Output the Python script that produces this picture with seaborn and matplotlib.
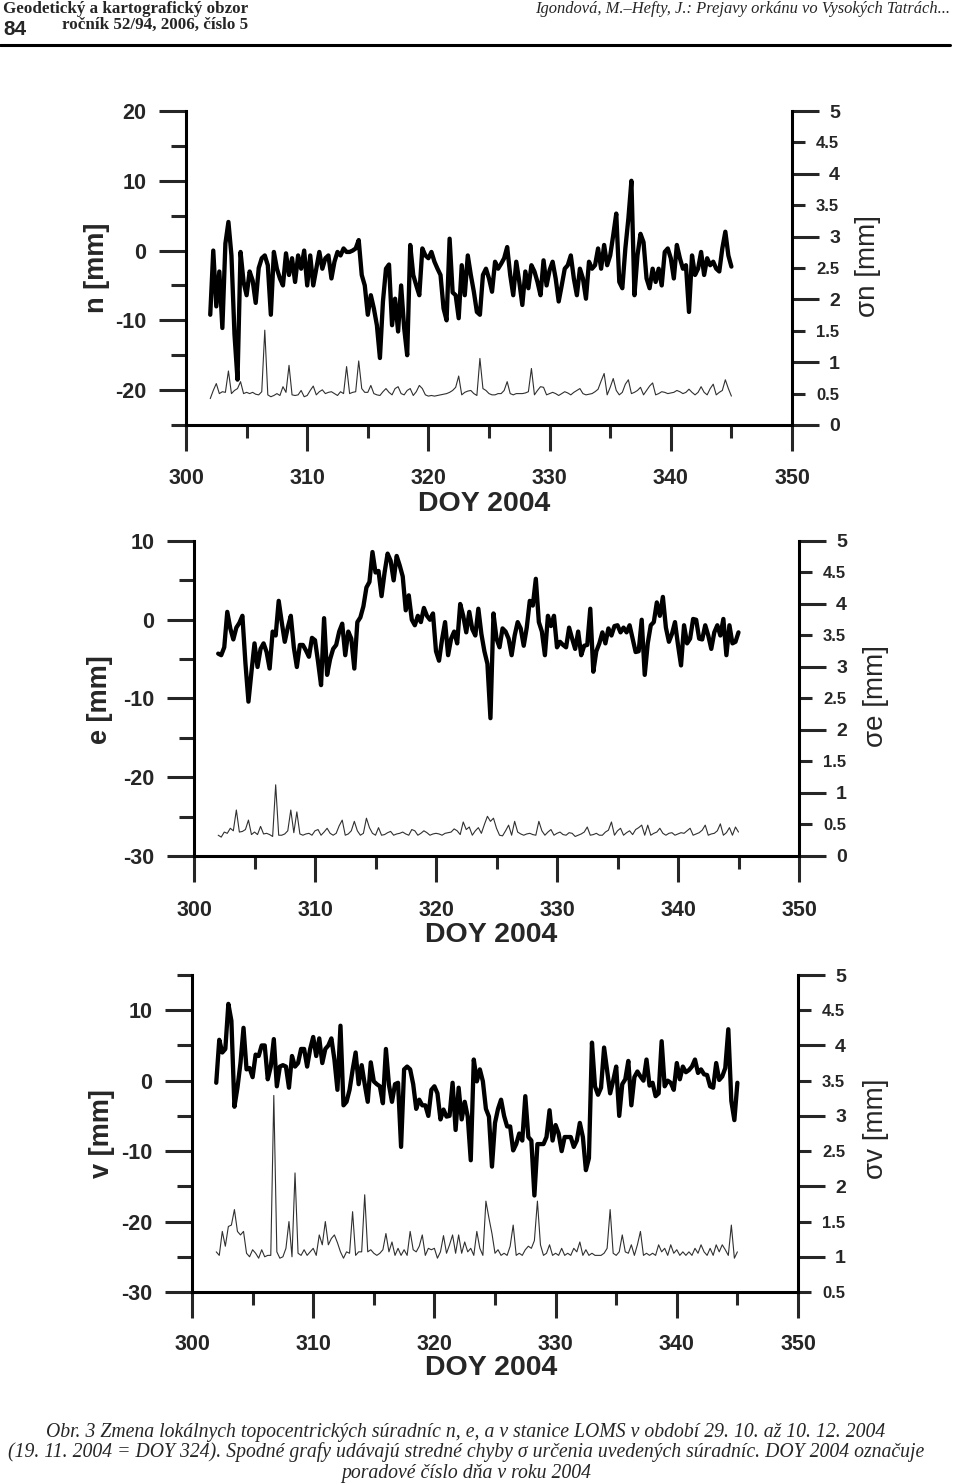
import numpy as np
import matplotlib
matplotlib.use("Agg")
import matplotlib.pyplot as plt
from matplotlib.lines import Line2D
import seaborn as sns

# time axis: DOY 2004, one solution every 6 hours
DOY_START = 302.0
DOY_STEP = 0.25

# topocentric coordinates [mm]
n_mm = [-9.2, 0.0, -8.0, -3.0, -11.1, 1.0, 4.1, -0.7, -12.0, -18.5,
        -0.2, -4.5, -6.4, -3.0, -4.3, -7.5, -2.5, -1.1, -0.7, -2.1,
        -9.2, -0.2, -2.6, -4.0, -5.0, -0.4, -3.5, -1.1, -4.5, -0.7,
        -2.6, 0.0, -5.0, -0.7, -5.0, -2.6, -0.2, -2.6, -1.1, -0.7,
        -4.0, -1.6, -0.2, -0.7, 0.3, -0.2, -0.2, 0.0, 0.3, 1.5,
        -3.5, -5.0, -9.2, -6.4, -8.3, -10.7, -15.4, -7.3, -2.6, -2.0,
        -10.7, -6.9, -11.6, -5.0, -11.1, -15.0, 0.8, -3.5, -5.0, -6.4,
        0.3, -0.7, -1.1, -0.2, -1.6, -2.6, -3.5, -8.3, -10.0, 1.7,
        -6.0, -6.4, -9.7, -2.1, -6.4, -0.7, -3.5, -5.9, -8.8, -9.2,
        -3.5, -2.6, -4.0, -5.9, -1.6, -2.6, -1.9, -1.1, 0.5, -3.5,
        -6.4, -1.6, -4.5, -7.8, -3.0, -5.4, -2.1, -3.0, -4.5, -6.4,
        -1.4, -5.0, -2.8, -1.6, -4.0, -7.3, -5.0, -2.6, -2.1, -0.7,
        -4.0, -6.4, -2.6, -4.0, -6.9, -1.6, -2.6, -2.1, 0.3, -2.6,
        0.8, -2.1, -0.7, 2.2, 5.3, -4.5, -5.4, 0.3, 4.6, 10.0,
        -6.4, -0.7, 2.4, 1.2, -4.0, -5.4, -2.6, -4.5, -2.6, -5.0,
        -0.2, 0.3, -1.1, -4.0, 0.8, -1.1, -2.6, -2.1, -8.8, -0.7,
        -3.5, -2.6, -0.2, -3.5, -1.1, -2.1, -1.6, -2.6, -3.0, 0.3,
        2.7, -0.7, -2.3]

e_mm = [-4.3, -4.5, -3.5, 1.0, -1.1, -2.5, -1.0, -0.4, 0.5, -5.5,
        -10.4, -6.6, -3.0, -6.0, -3.7, -3.0, -4.1, -6.2, -1.5, -2.0,
        2.4, -0.3, -2.8, -1.0, 0.5, -3.5, -6.0, -3.2, -3.2, -3.9,
        -4.7, -2.3, -2.6, -5.3, -8.3, 0.2, -7.0, -5.0, -3.7, -3.2,
        -1.5, -0.5, -4.5, -1.5, -2.4, -6.2, -0.3, 0.3, 1.7, 4.1,
        4.8, 8.6, 6.0, 6.2, 3.0, 6.0, 8.4, 7.5, 5.0, 8.1,
        6.9, 5.5, 1.2, 3.1, 0.0, -0.7, 0.5, -0.3, 1.5, 0.5,
        0.0, 0.8, -4.0, -5.2, -2.5, -0.3, -4.5, -2.4, -1.5, -3.0,
        2.0, 0.5, -1.6, 1.0, -1.2, -2.0, 1.4, -1.8, -4.0, -5.6,
        -12.5, 0.8, -2.4, -3.5, -1.1, -1.5, -2.4, -4.5, -2.0, -0.3,
        -1.1, -3.3, -1.0, 2.4, 1.8, 5.2, -0.3, -1.5, -4.5, 0.5,
        -0.8, 0.5, -3.5, -2.8, -3.2, -3.5, -1.0, -2.4, -3.7, -1.5,
        -4.5, -3.3, -3.2, 1.4, -6.6, -4.0, -3.0, -1.6, -3.0, -1.1,
        -2.0, -0.8, -0.7, -1.6, -1.0, -1.6, -0.7, -2.4, -4.1, -4.0,
        0.0, -7.0, -3.0, -0.7, -0.3, 2.2, 0.5, 2.9, -1.0, -2.8,
        -1.8, -0.3, -3.2, -5.8, -0.7, -3.0, -2.4, 0.1, 0.0, -2.4,
        -2.5, -0.7, -2.0, -3.7, -1.6, -0.7, -2.0, 0.1, -4.5, -0.7,
        -3.0, -2.8, -1.6]

v_mm = [-0.3, 5.8, 4.0, 4.5, 10.9, 8.5, -3.7, -1.0, 2.5, 7.5,
        1.6, 1.8, 0.5, 3.7, 3.5, 5.0, 5.0, 0.2, 2.0, 5.9,
        -0.8, 2.0, 2.2, 2.0, -1.0, 3.5, 2.0, 2.5, 4.5, 4.5,
        2.0, 4.5, 6.2, 3.5, 6.0, 2.5, 4.5, 5.0, 6.0, 3.0,
        -1.3, 7.8, -3.5, -3.0, -1.3, 1.5, 4.0, -0.5, 2.2, -0.5,
        -3.0, 2.6, -0.1, -0.5, -0.8, -3.2, 4.5, -0.6, -3.0, -0.5,
        -0.3, -9.4, 1.6, 2.0, 1.6, -0.5, -4.0, -2.7, -3.5, -3.5,
        -5.0, -1.3, -0.8, -1.8, -5.5, -4.1, -5.1, -5.0, -0.3, -7.0,
        -1.0, -5.5, -3.0, -5.1, -11.3, 3.0, -0.1, 1.6, -0.1, -4.0,
        -5.1, -12.2, -6.0, -4.0, -2.7, -5.0, -6.5, -6.5, -9.9, -9.0,
        -7.5, -8.5, -2.2, -8.0, -8.5, -16.3, -9.0, -9.0, -9.0, -8.0,
        -4.2, -8.5, -6.3, -7.5, -10.0, -8.0, -8.0, -8.0, -9.4, -8.5,
        -6.0, -8.0, -12.7, -11.0, 5.4, -0.8, -2.0, -1.0, 4.7, 1.5,
        -1.8, 0.0, 2.0, -5.0, -0.5, 0.2, 2.8, -3.5, 0.5, 1.3,
        0.6, 0.0, 3.0, -0.7, -0.3, -2.2, -1.8, 5.6, -0.8, 0.0,
        -0.3, -1.3, 2.5, 0.2, 2.0, 1.2, 1.5, 2.0, 3.0, 1.1,
        1.6, 0.9, 0.8, -0.8, -1.0, 2.5, 0.1, 0.6, 1.8, 7.3,
        -2.9, -5.6, -0.3]

# their standard errors [mm]
sig_n = [0.42, 0.55, 0.66, 0.50, 0.53, 0.52, 0.86, 0.50, 0.55, 0.58,
         0.69, 0.50, 0.52, 0.50, 0.52, 0.49, 0.48, 0.53, 1.51, 0.48,
         0.45, 0.47, 0.50, 0.47, 0.61, 0.52, 0.95, 0.48, 0.47, 0.48,
         0.55, 0.45, 0.47, 0.55, 0.62, 0.48, 0.53, 0.56, 0.50, 0.52,
         0.53, 0.50, 0.47, 0.53, 0.50, 0.93, 0.50, 0.52, 0.53, 1.02,
         0.58, 0.52, 0.52, 0.63, 0.50, 0.48, 0.47, 0.53, 0.58, 0.52,
         0.48, 0.58, 0.61, 0.50, 0.48, 0.55, 0.58, 0.47, 0.53, 0.63,
         0.58, 0.48, 0.46, 0.47, 0.46, 0.47, 0.48, 0.49, 0.50, 0.52,
         0.55, 0.60, 0.78, 0.48, 0.52, 0.54, 0.55, 0.50, 0.47, 1.06,
         0.58, 0.55, 0.50, 0.48, 0.48, 0.50, 0.50, 0.55, 0.69, 0.50,
         0.48, 0.50, 0.50, 0.50, 0.51, 0.53, 0.90, 0.48, 0.55, 0.61,
         0.60, 0.48, 0.50, 0.52, 0.50, 0.47, 0.50, 0.53, 0.51, 0.48,
         0.52, 0.55, 0.58, 0.50, 0.48, 0.49, 0.50, 0.53, 0.57, 0.70,
         0.82, 0.48, 0.60, 0.74, 0.55, 0.48, 0.52, 0.65, 0.72, 0.50,
         0.52, 0.55, 0.60, 0.48, 0.55, 0.62, 0.67, 0.48, 0.50, 0.53,
         0.52, 0.50, 0.51, 0.52, 0.55, 0.53, 0.50, 0.52, 0.57, 0.52,
         0.48, 0.52, 0.61, 0.52, 0.48, 0.58, 0.65, 0.48, 0.52, 0.55,
         0.72, 0.58, 0.46]

sig_e = [0.33, 0.30, 0.38, 0.36, 0.44, 0.40, 0.73, 0.38, 0.39, 0.42,
         0.57, 0.34, 0.38, 0.34, 0.47, 0.35, 0.36, 0.34, 0.31, 1.13,
         0.33, 0.33, 0.35, 0.40, 0.73, 0.37, 0.70, 0.35, 0.33, 0.35,
         0.36, 0.33, 0.40, 0.42, 0.33, 0.38, 0.44, 0.36, 0.33, 0.36,
         0.48, 0.57, 0.33, 0.35, 0.40, 0.55, 0.40, 0.33, 0.36, 0.60,
         0.45, 0.36, 0.33, 0.45, 0.33, 0.34, 0.37, 0.39, 0.33, 0.35,
         0.36, 0.38, 0.35, 0.33, 0.42, 0.40, 0.33, 0.36, 0.40, 0.37,
         0.33, 0.35, 0.36, 0.35, 0.33, 0.36, 0.37, 0.38, 0.43, 0.40,
         0.34, 0.54, 0.42, 0.46, 0.33, 0.40, 0.45, 0.36, 0.50, 0.63,
         0.55, 0.60, 0.44, 0.33, 0.32, 0.40, 0.49, 0.33, 0.55, 0.38,
         0.35, 0.33, 0.35, 0.36, 0.34, 0.33, 0.55, 0.40, 0.33, 0.38,
         0.42, 0.33, 0.36, 0.38, 0.34, 0.33, 0.37, 0.36, 0.31, 0.33,
         0.35, 0.38, 0.46, 0.33, 0.34, 0.36, 0.33, 0.33, 0.38, 0.41,
         0.54, 0.33, 0.40, 0.44, 0.33, 0.37, 0.40, 0.34, 0.42, 0.45,
         0.49, 0.33, 0.49, 0.33, 0.36, 0.38, 0.44, 0.36, 0.33, 0.36,
         0.37, 0.33, 0.35, 0.37, 0.36, 0.40, 0.44, 0.33, 0.35, 0.37,
         0.41, 0.49, 0.33, 0.35, 0.36, 0.40, 0.51, 0.33, 0.37, 0.45,
         0.33, 0.46, 0.38]

sig_v = [1.07, 1.02, 1.36, 1.15, 1.43, 1.45, 1.67, 1.36, 1.31, 1.36,
         1.05, 1.00, 1.10, 1.05, 0.98, 1.10, 1.00, 1.02, 1.02, 3.29,
         1.07, 0.98, 1.00, 1.12, 1.50, 1.00, 2.19, 1.05, 1.02, 1.10,
         1.02, 1.07, 1.12, 1.02, 1.31, 1.17, 1.50, 1.17, 1.26, 1.31,
         1.20, 1.07, 0.98, 1.07, 1.05, 1.64, 1.02, 1.07, 1.07, 1.88,
         1.07, 1.10, 1.05, 1.02, 1.05, 1.10, 1.33, 1.07, 1.21, 1.02,
         1.12, 1.02, 1.10, 1.02, 1.36, 1.10, 1.07, 1.15, 1.31, 1.02,
         1.12, 1.10, 1.12, 0.98, 1.07, 1.30, 1.05, 1.17, 1.31, 1.05,
         1.31, 1.05, 1.21, 1.07, 1.12, 1.02, 1.36, 1.12, 1.02, 1.79,
         1.55, 1.33, 1.05, 1.10, 1.02, 1.05, 1.02, 1.15, 1.45, 1.02,
         1.05, 1.02, 1.10, 1.15, 1.12, 1.23, 1.79, 1.17, 1.02, 1.05,
         1.17, 1.02, 1.05, 1.02, 1.12, 1.02, 1.05, 1.02, 1.12, 1.07,
         1.21, 1.02, 1.10, 1.02, 1.05, 1.02, 1.02, 1.02, 1.05, 1.12,
         1.67, 1.05, 1.02, 1.07, 1.31, 1.07, 1.05, 1.17, 1.02, 1.17,
         1.36, 1.02, 1.05, 1.02, 1.05, 1.02, 1.17, 1.07, 1.12, 1.02,
         1.17, 1.05, 1.10, 1.02, 1.07, 1.02, 1.07, 1.02, 1.12, 1.05,
         1.17, 1.07, 1.02, 1.12, 1.02, 1.17, 1.07, 1.17, 1.10, 1.02,
         1.45, 0.98, 1.07]

x_major = [300, 310, 320, 330, 340, 350]
x_minor = [305, 315, 325, 335, 345]

W, H = 960, 1484

sns.set_style("ticks")
plt.rcParams['font.family'] = ['Liberation Sans', 'DejaVu Sans']
plt.rcParams['font.weight'] = 'bold'
plt.rcParams['axes.unicode_minus'] = False

fig = plt.figure(figsize=(W / 100, H / 100), dpi=100)
renderer = fig.canvas.get_renderer()


def fx(x):
    return x / W


def fy(y):
    return 1 - y / H


def fit_text(x, y, s, width, **kw):
    # put a text and scale its size so it is `width` pixels wide
    t = fig.text(fx(x), fy(y), s, fontsize=12, **kw)
    w = t.get_window_extent(renderer).width
    t.set_fontsize(12 * width / w)
    return t


def fmt(v):
    return ('%g' % v)


def panel(box, y, sig, ylim, slim, ymaj, ymin, smaj, smin, ylab, slab, lab_pos, xpad):
    left, top, right, bottom = box
    ax = fig.add_axes([fx(left), fy(bottom), (right - left) / W, (bottom - top) / H])
    ax.patch.set_alpha(0)
    doy = DOY_START + DOY_STEP * np.arange(len(y))
    sns.lineplot(x=doy, y=y, ax=ax, color='black', linewidth=3.1)
    ax2 = ax.twinx()
    sns.lineplot(x=doy, y=sig, ax=ax2, color='#303030', linewidth=0.8)

    ax.set_xlim(300, 350)
    ax.set_ylim(*ylim)
    ax2.set_ylim(*slim)
    ax.set_xlabel('')
    ax.set_ylabel('')
    ax2.set_ylabel('')

    ax.set_xticks(x_major, labels=[str(v) for v in x_major])
    ax.set_xticks(x_minor, minor=True)
    ax.set_yticks(ymaj, labels=[fmt(v) for v in ymaj])
    ax.set_yticks(ymin, minor=True)
    ax2.set_yticks(smaj, labels=[fmt(v) for v in smaj])
    ax2.set_yticks(smin, labels=[fmt(v) for v in smin], minor=True)

    for a in (ax, ax2):
        for s in a.spines.values():
            s.set_linewidth(2.2)
            s.set_color('black')
        a.spines['top'].set_visible(False)
    ax.spines['right'].set_visible(False)
    ax2.spines['left'].set_visible(False)
    ax2.spines['bottom'].set_visible(False)

    ax.tick_params(axis='x', which='major', length=19, width=2.2, pad=xpad,
                   labelsize=15.5, direction='out')
    ax.tick_params(axis='x', which='minor', length=9.5, width=2.2, direction='out')
    ax.tick_params(axis='y', which='major', length=19.5, width=2.2, pad=9,
                   labelsize=15.5, direction='out')
    ax.tick_params(axis='y', which='minor', length=10.5, width=2.2, direction='out')
    ax2.tick_params(axis='y', which='major', length=19.5, width=2.2, pad=15,
                    labelsize=14, direction='out')
    ax2.tick_params(axis='y', which='minor', length=9.5, width=2.2, pad=24.5,
                    labelsize=12, direction='out')
    for lbl in ax2.get_yticklabels(which='both'):
        lbl.set_horizontalalignment('right')

    (lx, ly), (rx, ry), (dx, dy) = lab_pos
    fig.text(fx(lx), fy(ly), ylab, rotation=90, ha='center', va='center',
             fontsize=19.5, fontweight='bold')
    fig.text(fx(rx), fy(ry), slab, rotation=90, ha='center', va='center',
             fontsize=20, fontweight='normal')
    fig.text(fx(dx), fy(dy), 'DOY 2004', ha='center', va='center',
             fontsize=20.5, fontweight='bold')
    return ax, ax2


halves = [0.5, 1.5, 2.5, 3.5, 4.5]

panel((186, 111, 792, 425), n_mm, sig_n, (-25, 20), (0, 5),
      [-20, -10, 0, 10, 20], [-25, -15, -5, 5, 15], [0, 1, 2, 3, 4, 5], halves,
      'n [mm]', 'σn [mm]', ((97, 268), (868, 266), (484, 504)), 12)

panel((194, 541, 799, 856), e_mm, sig_e, (-30, 10), (0, 5),
      [-30, -20, -10, 0, 10], [-25, -15, -5, 5], [0, 1, 2, 3, 4, 5], halves,
      'e [mm]', 'σe [mm]', ((100, 700), (876, 696), (491, 935)), 13)

panel((192, 975, 798, 1292), v_mm, sig_v, (-30, 15), (0.5, 5),
      [-30, -20, -10, 0, 10], [-25, -15, -5, 5, 15], [1, 2, 3, 4, 5], halves,
      'v [mm]', 'σv [mm]', ((102, 1134), (876, 1129), (491, 1368)), 11)

# page header
serif = ['Liberation Serif', 'DejaVu Serif']
fit_text(3, 13, 'Geodetický a kartografický obzor', 243, family=serif,
         fontweight='bold', va='baseline')
fit_text(3, 35, '84', 23, fontweight='bold', va='baseline')
fit_text(62, 29, 'ročník 52/94, 2006, číslo 5', 185, family=serif,
         fontweight='bold', va='baseline')
fit_text(950, 13, 'Igondová, M.–Hefty, J.: Prejavy orkánu vo Vysokých Tatrách...', 413,
         family=serif, fontweight='normal', style='italic', ha='right', va='baseline')
fig.add_artist(Line2D([0, fx(950)], [fy(45), fy(45)], color='black', linewidth=2.2))

# caption, one size for all lines (fitted on the widest line)
cap = ['Obr. 3 Zmena lokálnych topocentrických súradníc n, e, a v stanice LOMS v období 29. 10. až 10. 12. 2004',
       '(19. 11. 2004 = DOY 324). Spodné grafy udávajú stredné chyby σ určenia uvedených súradníc. DOY 2004 označuje',
       'poradové číslo dňa v roku 2004']
cap_y = [1437, 1457, 1478]
ref = fit_text(466, cap_y[1], cap[1], 917, family=serif, fontweight='normal',
               style='italic', ha='center', va='baseline')
for s, cy in zip([cap[0], cap[2]], [cap_y[0], cap_y[2]]):
    fig.text(fx(466), fy(cy), s, family=serif, fontweight='normal', style='italic',
             ha='center', va='baseline', fontsize=ref.get_fontsize())

fig.savefig('out.png', dpi=100)
